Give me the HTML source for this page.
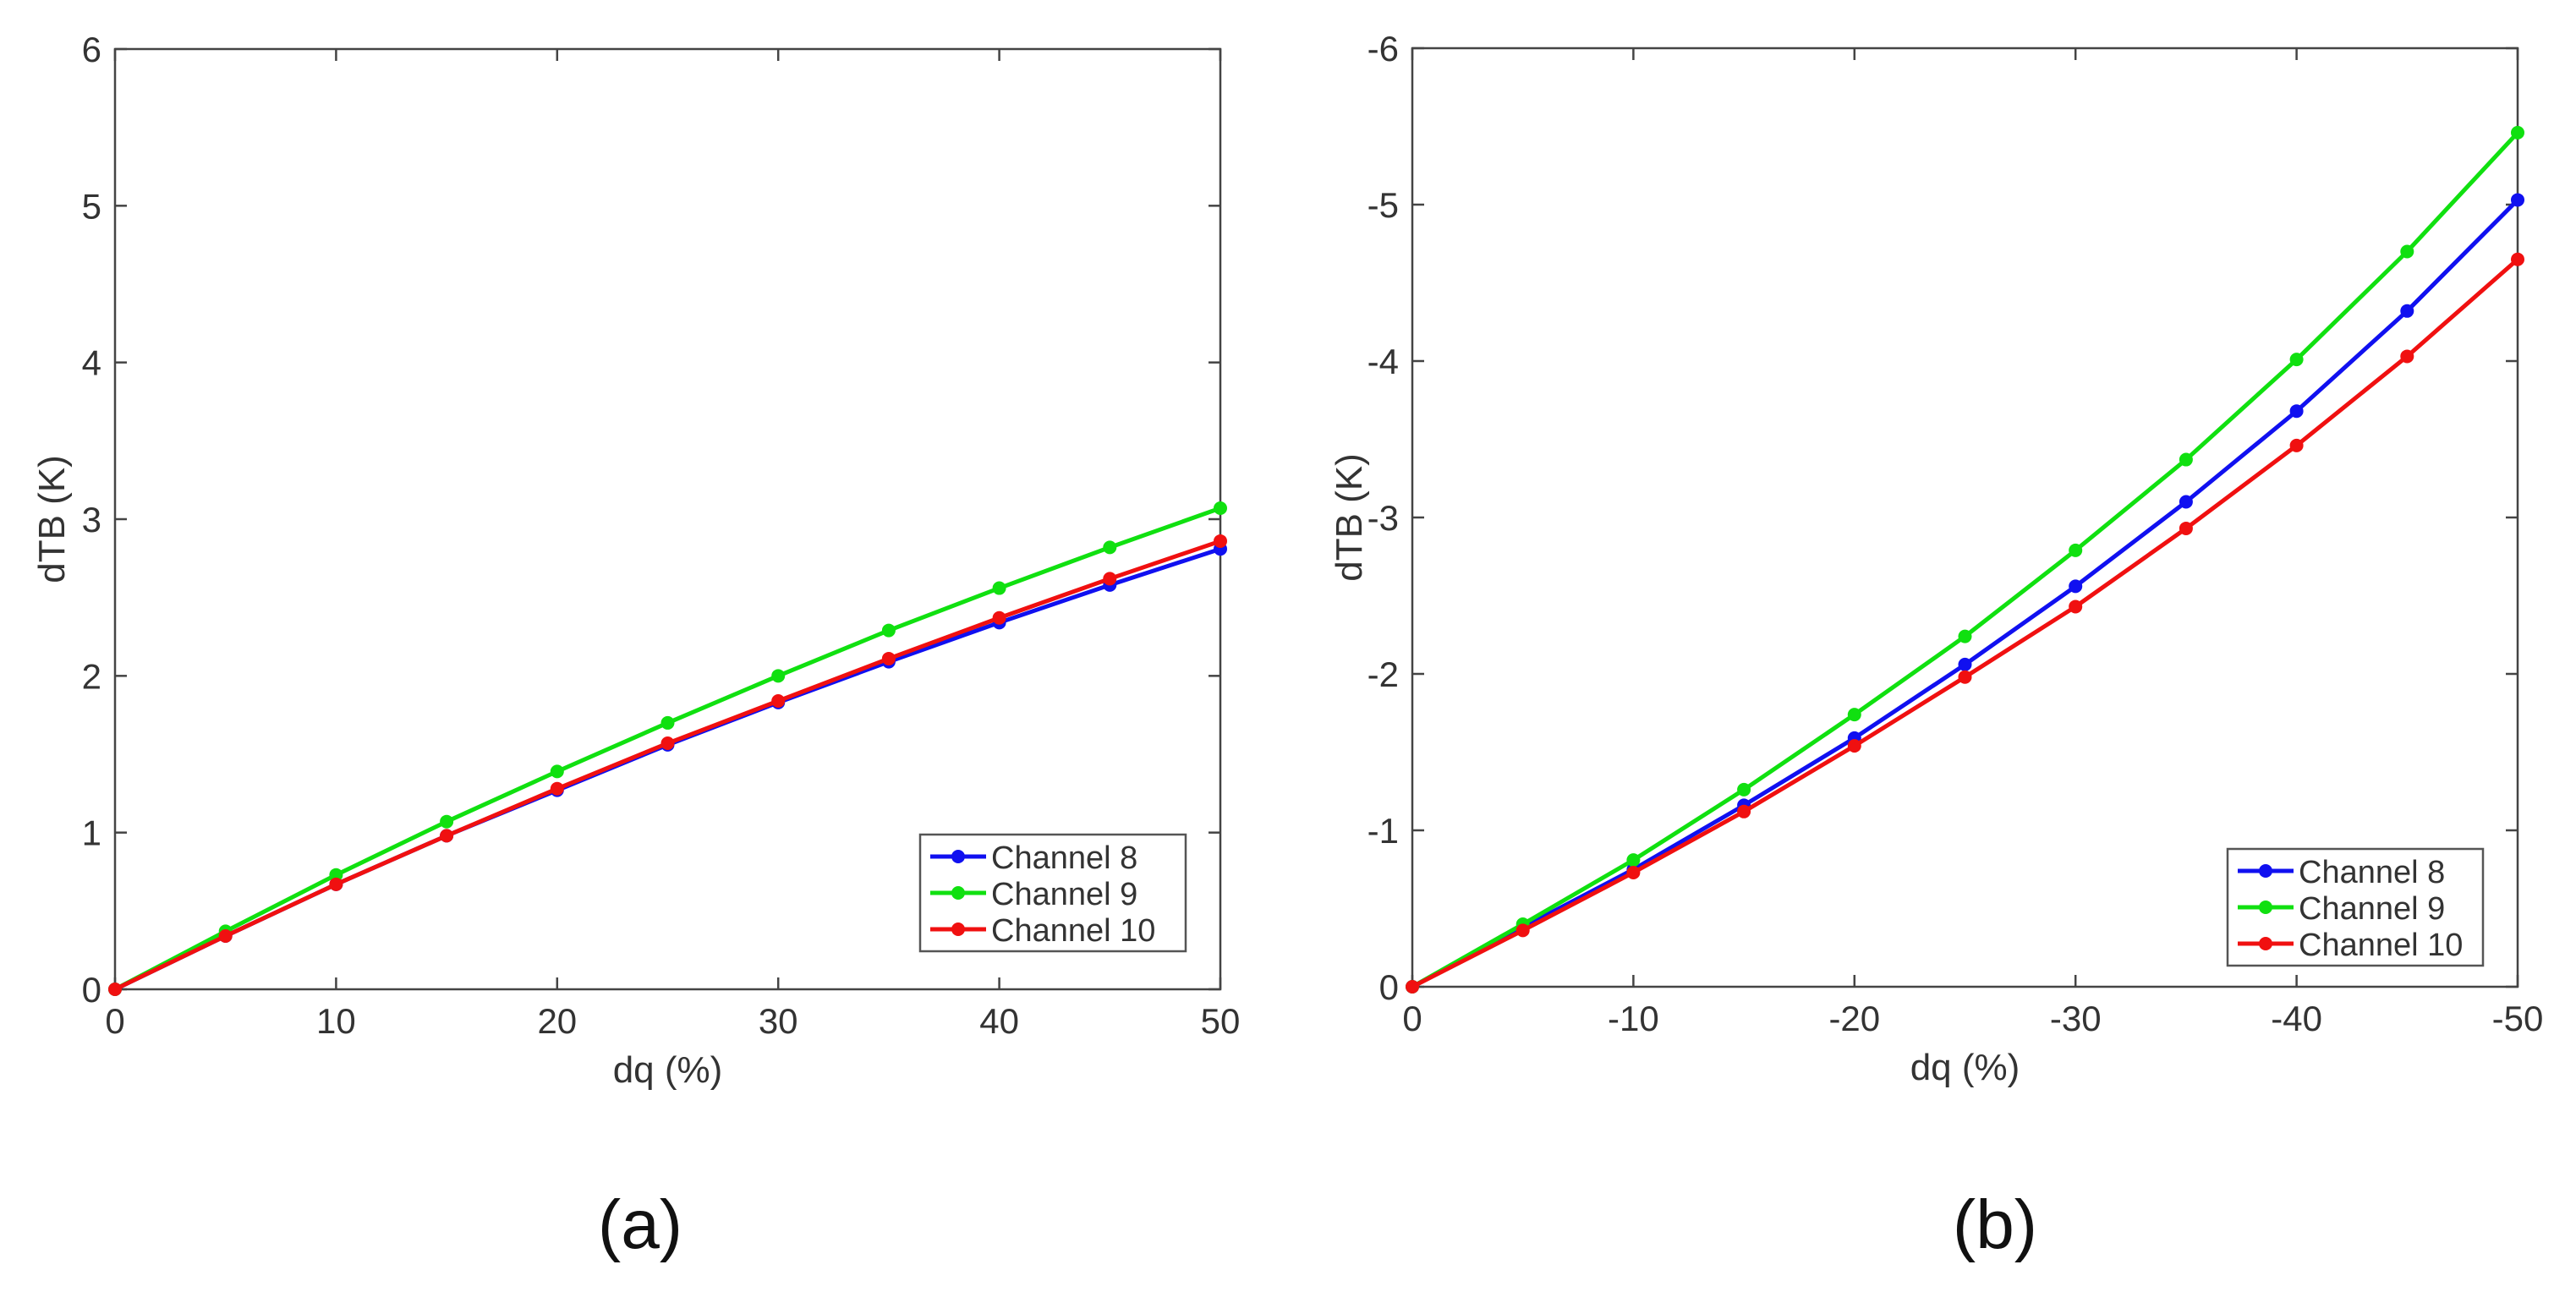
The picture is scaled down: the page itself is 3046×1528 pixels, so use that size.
<!DOCTYPE html>
<html><head><meta charset="utf-8"><style>
body{margin:0;background:#fff}
svg{display:block;font-family:"Liberation Sans",sans-serif}
</style></head><body>
<svg id="s" width="3046" height="1528" viewBox="0 0 3046 1528"></svg>
<script>
const xValsA=[0,5,10,15,20,25,30,35,40,45,50];
const ch8A=[0,0.34,0.67,0.98,1.27,1.56,1.83,2.09,2.34,2.58,2.81];
const ch9A=[0,0.37,0.73,1.07,1.39,1.70,2.00,2.29,2.56,2.82,3.07];
const ch10A=[0,0.34,0.67,0.98,1.28,1.57,1.84,2.11,2.37,2.62,2.86];
const xValsB=[0,-5,-10,-15,-20,-25,-30,-35,-40,-45,-50];
const ch8B=[0,-0.38,-0.75,-1.16,-1.59,-2.06,-2.56,-3.10,-3.68,-4.32,-5.03];
const ch9B=[0,-0.40,-0.81,-1.26,-1.74,-2.24,-2.79,-3.37,-4.01,-4.70,-5.46];
const ch10B=[0,-0.36,-0.73,-1.12,-1.54,-1.98,-2.43,-2.93,-3.46,-4.03,-4.65];
const xTicksA=[0,10,20,30,40,50];
const yTicksA=[0,1,2,3,4,5,6];
const xTicksB=[0,-10,-20,-30,-40,-50];
const yTicksB=[0,-1,-2,-3,-4,-5,-6];
const seriesNames=["Channel 8","Channel 9","Channel 10"];
const colors=["#1010f0","#10e010","#f01010"];
const NS="http://www.w3.org/2000/svg";
const svg=document.getElementById('s');
function mk(tag,attrs,parent,text){const e=document.createElementNS(NS,tag);for(const k in attrs)e.setAttribute(k,attrs[k]);if(text!==undefined)e.textContent=text;(parent||svg).appendChild(e);return e;}
function panel(p){
  const g=mk('g',{});
  
  
  const sx=v=>p.L+(v-p.x0)/(p.x1-p.x0)*(p.R-p.L);
  const sy=v=>p.B-(v-p.y0)/(p.y1-p.y0)*(p.B-p.T);
  const ax=mk('rect',{x:p.L,y:p.T,width:p.R-p.L,height:p.B-p.T,fill:'none',stroke:'#444','stroke-width':2.5},g);
  
  
  p.xt.forEach(v=>{const x=sx(v);
    mk('line',{x1:x,x2:x,y1:p.B,y2:p.B-14,stroke:'#444','stroke-width':2.5},g);
    mk('line',{x1:x,x2:x,y1:p.T,y2:p.T+14,stroke:'#444','stroke-width':2.5},g);
    const t=mk('text',{x:x,y:p.B+52,'font-size':42,fill:'#333','text-anchor':'middle'},g,String(v));
    
    
  });
  p.yt.forEach(v=>{const y=sy(v);
    mk('line',{x1:p.L,x2:p.L+14,y1:y,y2:y,stroke:'#444','stroke-width':2.5},g);
    mk('line',{x1:p.R,x2:p.R-14,y1:y,y2:y,stroke:'#444','stroke-width':2.5},g);
    const t=mk('text',{x:p.L-16,y:y+15,'font-size':42,fill:'#333','text-anchor':'end'},g,String(v));
    
    
  });
  const xl=mk('text',{x:(p.L+p.R)/2,y:p.B+110,'font-size':44,fill:'#333','text-anchor':'middle'},g,'dq (%)');
  
  
  const yl=mk('text',{x:0,y:0,'font-size':44,fill:'#333','text-anchor':'middle',transform:`translate(${p.L-60},${(p.T+p.B)/2}) rotate(-90)`},g,'dTB (K)');
  
  
  p.series.forEach((d,i)=>{
    const pts=d.map((v,j)=>sx(p.xs[j])+','+sy(v)).join(' ');
    const l=mk('polyline',{points:pts,fill:'none',stroke:colors[i],'stroke-width':5,'stroke-linejoin':'round'},g);
    
    
    d.forEach((v,j)=>{const c=mk('circle',{cx:sx(p.xs[j]),cy:sy(v),r:8,fill:colors[i]},g);
      
      });
  });
  const lg=mk('g',{},g);
  
  
  mk('rect',{x:p.lx,y:p.ly,width:p.lw,height:138,fill:'#fff',stroke:'#555','stroke-width':2.5},lg);
  seriesNames.forEach((n,i)=>{const y=p.ly+26+i*43;
    mk('line',{x1:p.lx+12,x2:p.lx+78,y1:y,y2:y,stroke:colors[i],'stroke-width':5},lg);
    mk('circle',{cx:p.lx+45,cy:y,r:8,fill:colors[i]},lg);
    const t=mk('text',{x:p.lx+84,y:y+14,'font-size':38,fill:'#333'},lg,n);
    
    
  });
  const cap=mk('text',{x:p.cx,y:1476,'font-size':82,fill:'#111','text-anchor':'middle'},g,p.cap);
  
  
}
panel({id:'panel-a',L:136,R:1443,T:58,B:1170,x0:0,x1:50,y0:0,y1:6,xt:xTicksA,yt:yTicksA,xs:xValsA,series:[ch8A,ch9A,ch10A],lx:1088,ly:987,lw:314,cx:757,cap:'(a)'});
panel({id:'panel-b',L:1670,R:2977,T:57,B:1167,x0:0,x1:-50,y0:0,y1:-6,xt:xTicksB,yt:yTicksB,xs:xValsB,series:[ch8B,ch9B,ch10B],lx:2634,ly:1004,lw:302,cx:2359,cap:'(b)'});
</script>
</body></html>
